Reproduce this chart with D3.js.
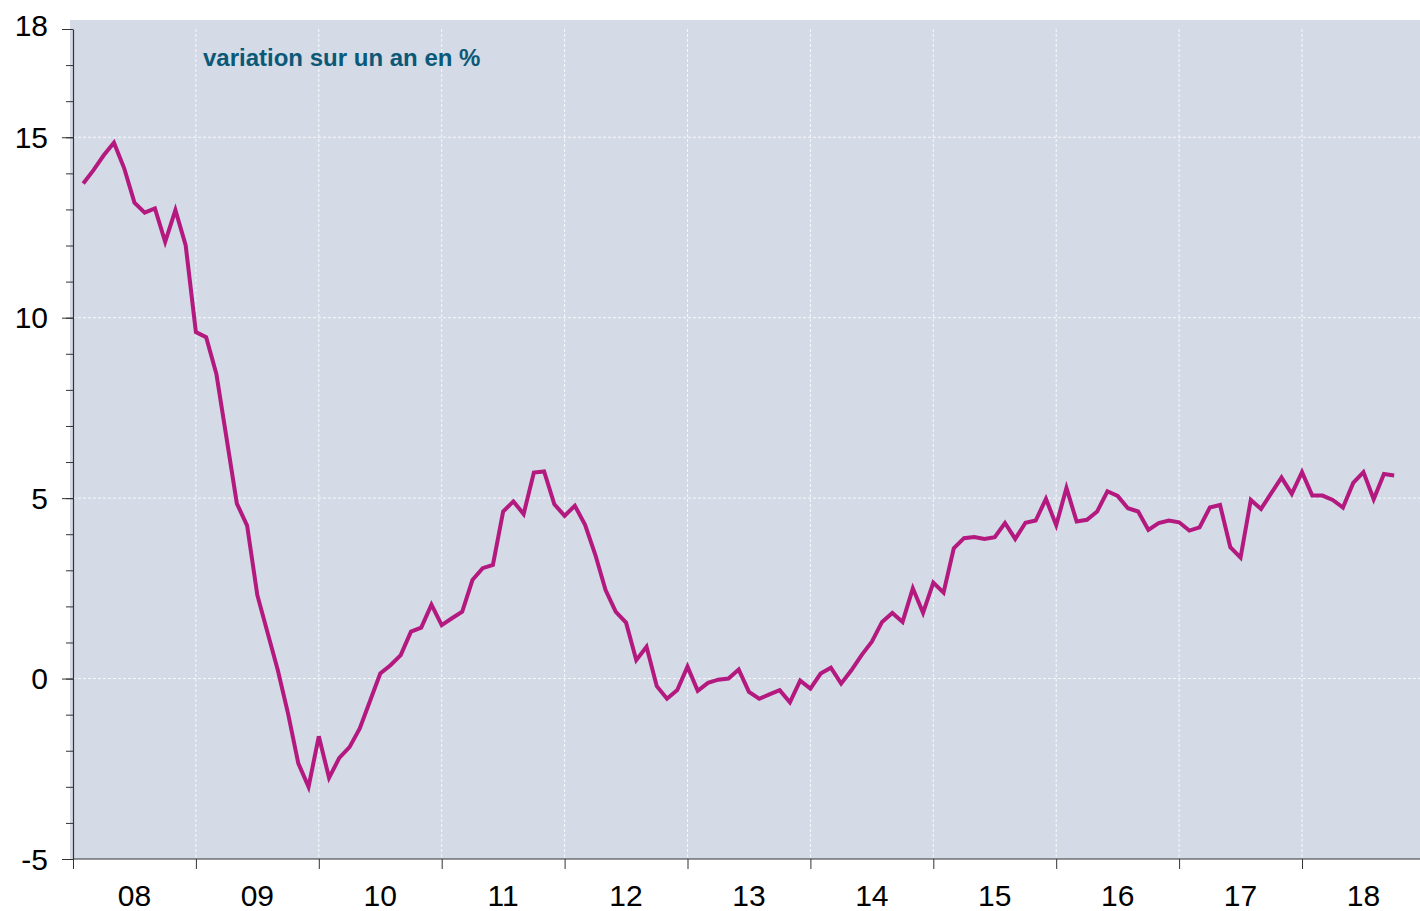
<!DOCTYPE html>
<html>
<head>
<meta charset="utf-8">
<script src="https://cdn.jsdelivr.net/npm/d3@7"></script>
<style>
  html, body { margin: 0; padding: 0; background: #ffffff; }
  svg { display: block; }
</style>
</head>
<body>
<svg id="chart" width="1420" height="911"></svg>
<script>
// ---- DATA (monthly, year-on-year change in %, Jan 2008 – Sep 2018) ----
const startYear = 2008;
const yearLabels = ["08", "09", "10", "11", "12", "13", "14", "15", "16", "17", "18"];
const yTickMajor = [18, 15, 10, 5, 0, -5];
const yTickLabels = ["18", "15", "10", "5", "0", "-5"];
const yGridValues = [15, 10, 5, 0];
const titleText = "variation sur un an en %";

const values2008 = [13.72, 14.09, 14.5, 14.85, 14.14, 13.19, 12.91, 13.03, 12.1, 12.98, 12.01, 9.60];
const values2009 = [9.46, 8.44, 6.65, 4.85, 4.24, 2.31, 1.27, 0.23, -0.97, -2.35, -3.0, -1.6];
const values2010 = [-2.75, -2.2, -1.9, -1.38, -0.62, 0.14, 0.37, 0.65, 1.30, 1.41, 2.05, 1.48];
const values2011 = [1.67, 1.85, 2.73, 3.06, 3.15, 4.63, 4.91, 4.56, 5.71, 5.74, 4.83, 4.51];
const values2012 = [4.79, 4.26, 3.43, 2.45, 1.85, 1.55, 0.51, 0.88, -0.21, -0.56, -0.32, 0.33];
const values2013 = [-0.34, -0.12, -0.03, 0.0, 0.25, -0.37, -0.56, -0.44, -0.32, -0.66, -0.06, -0.28];
const values2014 = [0.14, 0.30, -0.14, 0.23, 0.65, 1.02, 1.57, 1.82, 1.57, 2.5, 1.82, 2.66];
const values2015 = [2.38, 3.61, 3.89, 3.92, 3.87, 3.92, 4.31, 3.87, 4.32, 4.38, 4.98, 4.25];
const values2016 = [5.28, 4.35, 4.40, 4.63, 5.19, 5.06, 4.72, 4.63, 4.12, 4.31, 4.38, 4.33];
const values2017 = [4.10, 4.19, 4.74, 4.81, 3.64, 3.35, 4.95, 4.70, 5.14, 5.57, 5.12, 5.72];
const values2018 = [5.07, 5.07, 4.95, 4.74, 5.42, 5.72, 4.97, 5.67, 5.63];

const series = [].concat(values2008, values2009, values2010, values2011, values2012,
  values2013, values2014, values2015, values2016, values2017, values2018);

// ---- LAYOUT ----
const W = 1420, H = 911;
const plot = { left: 73, right: 1420, top: 29, bottom: 859, bgLeft: 70, bgTop: 20 };

const svg = d3.select("#chart");

// months since Jan 2008; each observation plotted at end of its month
const x = d3.scaleLinear()
  .domain([0, yearLabels.length * 12])
  .range([plot.left, plot.left + 1229 / 120 * yearLabels.length * 12]);
const y = d3.scaleLinear().domain([-5, 18]).range([plot.bottom, plot.top]);

svg.append("rect")
  .attr("x", plot.bgLeft).attr("y", plot.bgTop)
  .attr("width", plot.right - plot.bgLeft).attr("height", plot.bottom - plot.bgTop)
  .attr("fill", "#d4dae6");

svg.append("clipPath").attr("id", "clip")
  .append("rect")
  .attr("x", plot.bgLeft).attr("y", plot.bgTop)
  .attr("width", plot.right - plot.bgLeft).attr("height", plot.bottom - plot.bgTop);

// grid
const grid = svg.append("g").attr("clip-path", "url(#clip)");
grid.selectAll("line.h").data(yGridValues).join("line")
  .attr("x1", plot.left).attr("x2", plot.right)
  .attr("y1", d => y(d)).attr("y2", d => y(d))
  .attr("stroke", "#ffffff").attr("stroke-width", 1)
  .attr("stroke-dasharray", "3,2").attr("opacity", 0.85);

const yearBoundaries = d3.range(1, yearLabels.length + 1).map(k => k * 12);
grid.selectAll("line.v").data(yearBoundaries).join("line")
  .attr("x1", d => x(d)).attr("x2", d => x(d))
  .attr("y1", plot.top).attr("y2", plot.bottom)
  .attr("stroke", "#ffffff").attr("stroke-width", 1)
  .attr("stroke-dasharray", "3,2").attr("opacity", 0.85);

// line
const line = d3.line()
  .x((d, i) => x(i + 1))
  .y(d => y(d))
  .curve(d3.curveLinear);

svg.append("path")
  .datum(series)
  .attr("clip-path", "url(#clip)")
  .attr("d", line)
  .attr("fill", "none")
  .attr("stroke", "#b3197e")
  .attr("stroke-width", 4)
  .attr("stroke-linejoin", "miter")
  .attr("stroke-miterlimit", 4);

// y axis (major + minor ticks)
const axisColor = "#333333";
const yAxisMinor = d3.axisLeft(y).tickValues(d3.range(-5, 19, 1)).tickSize(7).tickFormat("");
const gyMinor = svg.append("g").attr("transform", `translate(${plot.left},0)`).call(yAxisMinor);
gyMinor.select(".domain").remove();
gyMinor.selectAll("line").attr("stroke", axisColor);

const yAxis = d3.axisLeft(y).tickValues(yTickMajor)
  .tickFormat((d, i) => yTickLabels[i])
  .tickSize(11).tickSizeOuter(0).tickPadding(14);
const gy = svg.append("g").attr("transform", `translate(${plot.left},0)`).call(yAxis);
gy.select(".domain").attr("stroke", axisColor).attr("stroke-width", 1.2);
gy.selectAll("line").attr("stroke", axisColor);
gy.selectAll("text")
  .attr("font-family", "Liberation Sans, Arial, sans-serif")
  .attr("font-size", 30)
  .attr("fill", "#000000")
  .attr("dy", d => d === 18 ? "0.2em" : "0.34em");

// x axis
const xAxis = d3.axisBottom(x)
  .tickValues(d3.range(0, yearLabels.length + 1).map(k => k * 12))
  .tickSize(10).tickSizeOuter(0).tickFormat("");
const gx = svg.append("g").attr("transform", `translate(0,${plot.bottom})`).call(xAxis);
gx.select(".domain").attr("stroke", axisColor).attr("stroke-width", 1.2)
  .attr("d", `M${plot.left},0H${plot.right}`);
gx.selectAll("line").attr("stroke", axisColor);

svg.append("g").selectAll("text").data(yearLabels).join("text")
  .attr("x", (d, i) => x(i * 12 + 6))
  .attr("y", 906)
  .attr("text-anchor", "middle")
  .attr("font-family", "Liberation Sans, Arial, sans-serif")
  .attr("font-size", 30)
  .attr("fill", "#000000")
  .text(d => d);

// title
svg.append("text")
  .attr("x", 203).attr("y", 66)
  .attr("font-family", "Liberation Sans, Arial, sans-serif")
  .attr("font-size", 24)
  .attr("font-weight", "bold")
  .attr("fill", "#0b5877")
  .text(titleText);
</script>
</body>
</html>
